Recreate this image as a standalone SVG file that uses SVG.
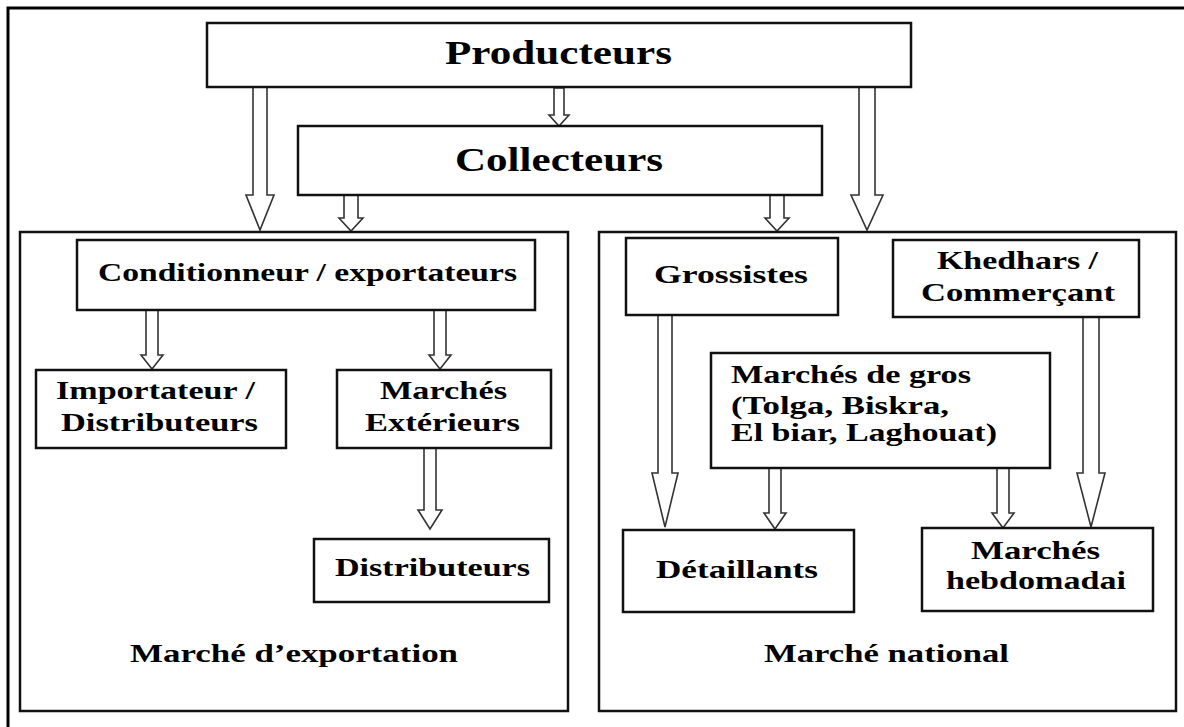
<svg xmlns="http://www.w3.org/2000/svg" width="1184" height="727" viewBox="0 0 1184 727">
<style>
.bg{fill:#fff}
.frame{fill:none;stroke:#000;stroke-width:3}
.sec{fill:none;stroke:#111;stroke-width:2.5}
.box{fill:#fff;stroke:#111;stroke-width:2.5}
.arr{fill:#fff;stroke:#333;stroke-width:1.6;stroke-linejoin:miter}
text{font-family:"Liberation Serif","Times New Roman",serif;font-weight:bold;fill:#000}
.big{font-size:33px}
.med{font-size:26px}
</style>
<rect class="bg" x="0" y="0" width="1184" height="727"/>
<path class="frame" d="M8,727 V8 H1184"/>

<g id="connectors">
<polygon class="arr" points="253,87 267,87 267,195 274,195 260,230 246,195 253,195"/>
<polygon class="arr" points="859,87 875,87 875,195 883,195 867,230 851,195 859,195"/>
<polygon class="arr" points="554,88 564,88 564,115 569,115 559,126 549,115 554,115"/>
<polygon class="arr" points="344,195 358,195 358,218 363,218 351,231 339,218 344,218"/>
<polygon class="arr" points="770,195 784,195 784,218 789,218 777,231 765,218 770,218"/>
<polygon class="arr" points="146,310 158,310 158,355 163,355 152,369 141,355 146,355"/>
<polygon class="arr" points="434,310 446,310 446,355 451,355 440,369 429,355 434,355"/>
<polygon class="arr" points="424,448 436,448 436,510 442,510 430,529 418,510 424,510"/>
<polygon class="arr" points="658,315 672,315 672,473 678,473 665,527 652,473 658,473"/>
<polygon class="arr" points="1083,317 1099,317 1099,473 1105,473 1091,527 1077,473 1083,473"/>
<polygon class="arr" points="769,468 781,468 781,513 786,513 775,529 764,513 769,513"/>
<polygon class="arr" points="997,468 1009,468 1009,513 1014,513 1003,528 992,513 997,513"/>
</g>

<g id="producteurs">
<rect class="box" x="207" y="23" width="704" height="64"/>
<text class="big" x="445" y="64" textLength="227" lengthAdjust="spacingAndGlyphs">Producteurs</text>
</g>
<g id="collecteurs">
<rect class="box" x="298" y="126" width="524" height="69"/>
<text class="big" x="455" y="171" textLength="208" lengthAdjust="spacingAndGlyphs">Collecteurs</text>
</g>

<g id="marche-exportation">
<rect class="sec" x="20" y="232" width="548" height="479"/>
<text class="med" x="130" y="662" textLength="328" lengthAdjust="spacingAndGlyphs">Marché d’exportation</text>
</g>
<g id="conditionneur">
<rect class="box" x="77" y="240" width="458" height="70"/>
<text class="med" x="98" y="281" textLength="419" lengthAdjust="spacingAndGlyphs">Conditionneur / exportateurs</text>
</g>
<g id="importateur">
<rect class="box" x="36" y="370" width="250" height="78"/>
<text class="med" x="56" y="399" textLength="199" lengthAdjust="spacingAndGlyphs">Importateur /</text>
<text class="med" x="61" y="431" textLength="197" lengthAdjust="spacingAndGlyphs">Distributeurs</text>
</g>
<g id="marches-exterieurs">
<rect class="box" x="337" y="370" width="214" height="78"/>
<text class="med" x="380" y="399" textLength="127" lengthAdjust="spacingAndGlyphs">Marchés</text>
<text class="med" x="365" y="431" textLength="155" lengthAdjust="spacingAndGlyphs">Extérieurs</text>
</g>
<g id="distributeurs">
<rect class="box" x="314" y="539" width="235" height="63"/>
<text class="med" x="335" y="576" textLength="195" lengthAdjust="spacingAndGlyphs">Distributeurs</text>
</g>

<g id="marche-national">
<rect class="sec" x="599" y="232" width="577" height="479"/>
<text class="med" x="764" y="662" textLength="245" lengthAdjust="spacingAndGlyphs">Marché national</text>
</g>
<g id="grossistes">
<rect class="box" x="626" y="238" width="212" height="77"/>
<text class="med" x="654" y="283" textLength="154" lengthAdjust="spacingAndGlyphs">Grossistes</text>
</g>
<g id="khedhars">
<rect class="box" x="893" y="240" width="246" height="77"/>
<text class="med" x="937" y="269" textLength="161" lengthAdjust="spacingAndGlyphs">Khedhars /</text>
<text class="med" x="921" y="301" textLength="194" lengthAdjust="spacingAndGlyphs">Commerçant</text>
</g>
<g id="marches-de-gros">
<rect class="box" x="711" y="353" width="339" height="115"/>
<text class="med" x="731" y="383" textLength="240" lengthAdjust="spacingAndGlyphs">Marchés de gros</text>
<text class="med" x="731" y="414" textLength="218" lengthAdjust="spacingAndGlyphs">(Tolga, Biskra,</text>
<text class="med" x="731" y="441" textLength="266" lengthAdjust="spacingAndGlyphs">El biar, Laghouat)</text>
</g>
<g id="detaillants">
<rect class="box" x="623" y="530" width="231" height="82"/>
<text class="med" x="656" y="578" textLength="162" lengthAdjust="spacingAndGlyphs">Détaillants</text>
</g>
<g id="marches-hebdomadai">
<rect class="box" x="922" y="528" width="231" height="83"/>
<text class="med" x="971" y="559" textLength="129" lengthAdjust="spacingAndGlyphs">Marchés</text>
<text class="med" x="946" y="589" textLength="180" lengthAdjust="spacingAndGlyphs">hebdomadai</text>
</g>
</svg>
